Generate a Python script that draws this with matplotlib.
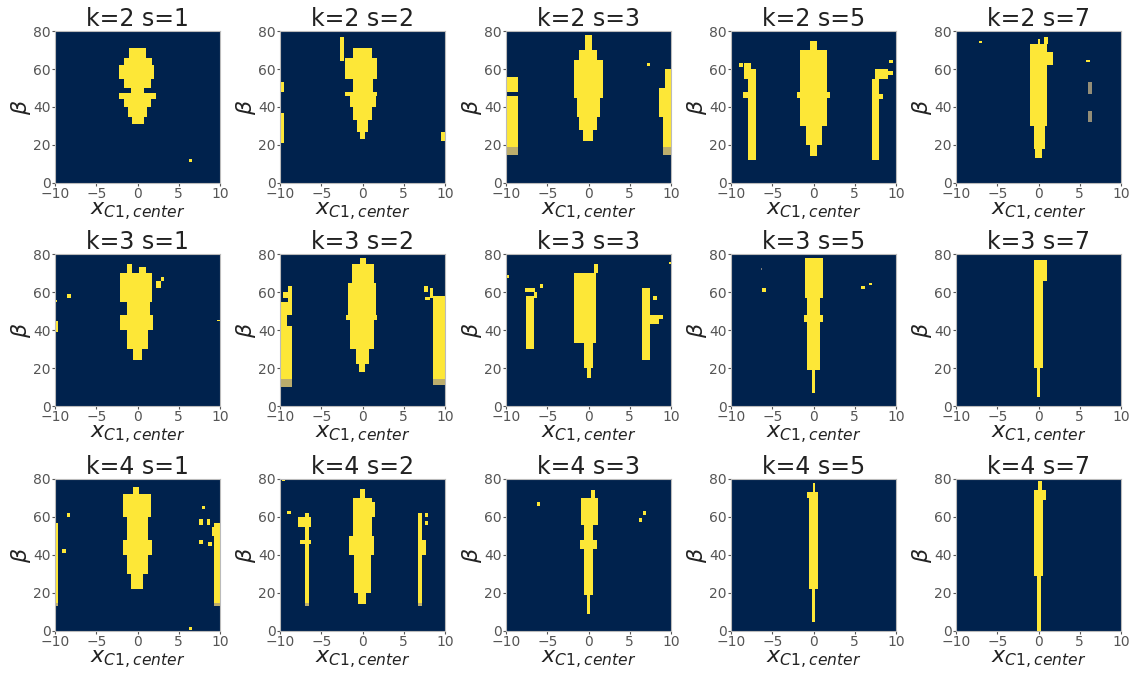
import numpy as np
import matplotlib
matplotlib.use("Agg")
import matplotlib.pyplot as plt

# grid values
k_values = [2, 3, 4]
s_values = [1, 2, 3, 5, 7]
x_ticks = [-10, -5, 0, 5, 10]
beta_ticks = [0, 20, 40, 60, 80]

# yellow regions: (x0, x1, beta0, beta1[, level])
k2_s1 = [(-1.0, 1.0, 66, 71), (-1.6, 1.8, 62, 66), (-2.2, 2.0, 55, 62), (-1.6, 1.6, 50, 55),
         (-0.8, 0.8, 47.5, 50), (-2.2, 2.2, 44, 47.5), (-1.6, 1.6, 40, 44), (-1.2, 1.2, 35, 40),
         (-0.7, 0.8, 31, 35), (6.2, 6.6, 11, 12.5)]
k2_s2 = [(-2.7, -2.3, 64, 77), (-1.2, 1.1, 66, 71), (-2.1, 1.7, 55, 66), (-1.2, 1.3, 48, 55),
         (-2.1, 1.7, 46, 48), (-1.5, 1.6, 40, 46), (-1.1, 1.1, 33, 40), (-0.7, 0.7, 27, 33),
         (-0.3, 0.3, 23, 27), (-10, -9.5, 48, 53), (-10, -9.5, 21, 37), (9.5, 10, 22, 27)]
k2_s3 = [(-10, -8.5, 48, 56), (-10, -8.5, 19, 46), (-10, -8.5, 15, 19, 0.75),
         (-0.4, 0.4, 70, 78), (-1.2, 1.0, 65, 70), (-1.7, 1.7, 45, 65), (-1.4, 1.4, 35, 45),
         (-1.2, 1.0, 28, 35), (-0.7, 0.6, 22, 28), (7.1, 7.5, 61.5, 63),
         (9.3, 10, 50, 60), (8.6, 10, 35, 50), (9.0, 10, 19, 35), (9.0, 10, 15, 19, 0.75)]
k2_s5 = [(-7.9, -7.05, 12, 60), (-8.5, -7.5, 45, 48), (-8.4, -7.6, 55, 63), (-9.0, -8.6, 61, 63),
         (-0.4, 0.4, 70, 75), (-1.6, 1.6, 30, 70), (-2.0, 2.0, 45, 48), (-0.9, 1.0, 20, 30),
         (-0.4, 0.4, 14, 20),
         (7.06, 7.9, 12, 55), (7.5, 9.0, 55, 60), (8.5, 9.6, 57, 59), (9.2, 9.6, 63, 65),
         (7.9, 8.4, 44, 47)]
k2_s7 = [(-1.0, 1.0, 30, 73), (-0.6, 0.8, 18, 30), (-0.4, 0.4, 13, 18), (0.7, 1.1, 73, 77),
         (-0.1, 0.2, 73, 76), (1.0, 1.8, 62, 69), (-7.2, -6.8, 73.5, 75),
         (6.0, 6.5, 47, 53, 0.6), (6.0, 6.5, 32, 38, 0.6), (5.8, 6.3, 63.5, 65)]
k3_s1 = [(-1.3, -0.7, 70, 75), (0.2, 1.0, 70, 73), (-2.1, 1.7, 55, 70), (-1.3, 1.5, 48, 55),
         (-2.1, 1.9, 40, 48), (-1.3, 1.3, 30, 40), (-0.6, 0.6, 24, 30),
         (2.3, 2.8, 62, 66), (2.8, 3.2, 66, 68),
         (-10, -9.6, 39, 45), (-10, -9.7, 54.5, 56), (-8.5, -8.1, 57, 59), (9.6, 10, 44.5, 45.5)]
k3_s2 = [(-10, -8.5, 48, 55), (-10, -9.2, 42, 48), (-10, -8.5, 14, 42), (-10, -8.5, 10, 14, 0.75),
         (-9.0, -8.5, 55, 63), (-9.6, -9.0, 57, 60),
         (-0.3, 0.4, 75, 78), (-1.3, 1.4, 65, 75), (-1.8, 1.6, 48, 65), (-2.0, 1.8, 45.5, 48),
         (-1.5, 1.4, 30, 45.5), (-0.8, 0.8, 22, 30), (-0.4, 0.3, 18, 22),
         (8.5, 10, 14, 58), (8.5, 10, 11, 14, 0.75), (7.4, 8.0, 60, 63), (8.2, 8.6, 57, 62),
         (7.6, 8.2, 56, 57.5)]
k3_s3 = [(-7.6, -6.6, 30, 58), (-7.7, -6.5, 60, 62), (-6.6, -6.2, 57, 60), (-5.9, -5.5, 62, 64),
         (-10, -9.6, 67.5, 69),
         (0.7, 1.2, 70, 75), (-1.8, 0.9, 33, 70), (-0.5, 0.5, 20, 33), (-0.2, 0.3, 15, 20),
         (6.5, 7.5, 24, 62), (7.5, 8.6, 43, 48), (7.8, 8.3, 56, 58), (8.6, 9.0, 46, 48),
         (9.7, 10, 74.5, 76)]
k3_s5 = [(-1.0, 1.1, 57, 78), (-0.8, 0.8, 48, 57), (-1.2, 1.2, 44, 48), (-0.8, 0.8, 19, 44),
         (-0.2, 0.2, 7, 19), (-6.2, -5.8, 60, 62), (-6.4, -6.2, 71.5, 72.5, 0.5),
         (5.8, 6.2, 61.5, 63), (6.7, 7.1, 63.5, 65)]
k3_s7 = [(-0.5, 0.5, 20, 66), (-0.6, 1.0, 66, 77), (-0.2, 0.2, 5, 20)]
k4_s1 = [(-10, -9.6, 15, 57), (-10, -9.6, 13, 15, 0.75), (-8.6, -8.2, 60, 62), (-9.1, -8.7, 41, 43),
         (-0.5, 0.2, 72, 76), (-1.8, 1.6, 60, 72), (-1.3, 1.3, 48, 60), (-1.8, 1.8, 40, 48),
         (-1.3, 1.3, 30, 40), (-0.8, 0.7, 22, 30),
         (9.3, 10, 15, 57), (9.3, 10, 13, 15, 0.75), (7.8, 8.2, 64, 66), (7.5, 7.9, 56, 59),
         (8.4, 8.8, 56, 59), (7.5, 7.9, 46, 48), (8.6, 9.0, 45, 47), (9.0, 9.3, 50, 55),
         (6.3, 6.6, 0.5, 2)]
k4_s2 = [(-7.0, -6.5, 15, 62), (-7.0, -6.5, 13, 15, 0.75), (-7.8, -6.3, 55, 60), (-7.6, -6.2, 46, 48),
         (-9.1, -8.7, 61.5, 63), (-9.7, -9.4, 79, 80),
         (-0.3, 0.3, 70, 75), (-1.2, 1.2, 50, 70), (1.2, 1.5, 60, 68), (-1.6, 1.4, 40, 50),
         (-1.0, 1.0, 20, 40), (-0.5, 0.4, 14, 20),
         (6.7, 7.2, 15, 62), (6.7, 7.2, 13, 15, 0.75), (7.2, 7.7, 40, 48), (7.6, 8.0, 56, 58),
         (7.6, 8.0, 60, 62)]
k4_s3 = [(0.3, 0.8, 70, 74), (-0.9, 1.1, 56, 70), (-0.6, 0.6, 48, 56), (-1.0, 1.0, 43, 48),
         (-0.5, 0.6, 19, 43), (-0.2, 0.2, 9, 19), (-6.3, -5.9, 66, 68), (6.1, 6.5, 57.5, 59.5),
         (6.6, 7.0, 61, 63)]
k4_s5 = [(-0.5, 0.5, 22, 70), (-0.8, 0.5, 70, 73), (-0.1, 0.2, 73, 78), (-0.2, 0.2, 5, 22)]
k4_s7 = [(-0.5, 0.6, 29, 69), (-0.5, 0.9, 69, 74), (-0.2, 0.3, 0, 29), (-0.1, 0.4, 73, 79)]

panels = {
    (2, 1): k2_s1, (2, 2): k2_s2, (2, 3): k2_s3, (2, 5): k2_s5, (2, 7): k2_s7,
    (3, 1): k3_s1, (3, 2): k3_s2, (3, 3): k3_s3, (3, 5): k3_s5, (3, 7): k3_s7,
    (4, 1): k4_s1, (4, 2): k4_s2, (4, 3): k4_s3, (4, 5): k4_s5, (4, 7): k4_s7,
}


def rasterize(rects, nx=200, ny=160):
    '''turn the rectangles into a grid over x in [-10, 10], beta in [0, 80]'''
    xc = -10 + (np.arange(nx) + 0.5) * 20 / nx
    bc = (np.arange(ny) + 0.5) * 80 / ny
    grid = np.zeros((ny, nx))
    for r in rects:
        level = r[4] if len(r) > 4 else 1.0
        mx = (xc >= r[0]) & (xc <= r[1])
        mb = (bc >= r[2]) & (bc <= r[3])
        grid[np.ix_(mb, mx)] = np.maximum(grid[np.ix_(mb, mx)], level)
    return grid


fig = plt.figure(figsize=(11.4, 6.77), dpi=100)

col_left = [55, 280, 506, 731, 956]
row_top = [31, 254, 479]
w_px, h_px = 165, 152

for i, k in enumerate(k_values):
    for j, s in enumerate(s_values):
        ax = fig.add_axes([col_left[j] / 1140, 1 - (row_top[i] + h_px) / 677,
                           w_px / 1140, h_px / 677])
        ax.imshow(rasterize(panels[(k, s)]), origin='lower', extent=[-10, 10, 0, 80],
                  aspect='auto', cmap='cividis', vmin=0, vmax=1, interpolation='nearest')
        ax.set_xticks(x_ticks)
        ax.set_yticks(beta_ticks)
        ax.tick_params(labelsize=10, length=2, colors='#555555', pad=1)
        for sp in ax.spines.values():
            sp.set_color('#bbbbbb')
        ax.set_title(f'k={k} s={s}', fontsize=17, pad=3, color='#222222')
        ax.set_xlabel(r'$x_{C1,center}$', fontsize=16, labelpad=0, color='#222222')
        ax.set_ylabel(r'$\beta$', fontsize=16, labelpad=0, color='#222222')

fig.savefig('out.png', dpi=100)
